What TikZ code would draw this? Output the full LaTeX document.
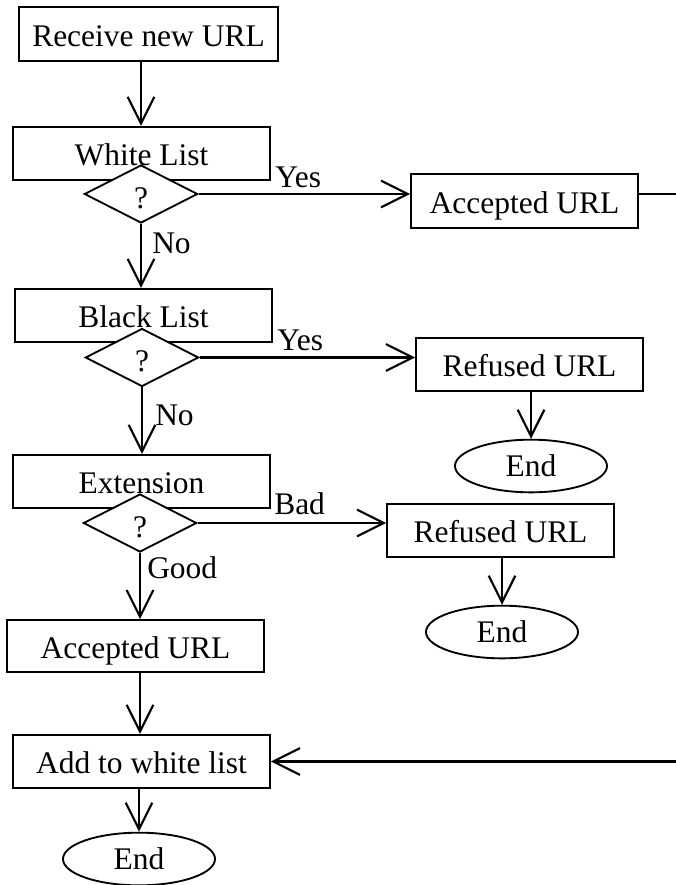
\documentclass[tikz,border=0pt]{standalone}
\usepackage{fontspec}
\setmainfont{Liberation Serif}
\usetikzlibrary{shapes.geometric,arrows.meta}
\begin{document}
\begin{tikzpicture}[x=0.75pt,y=-0.75pt,
  every node/.style={font=\fontsize{23.6}{28}\selectfont, inner sep=0pt},
  box/.style={draw, line width=1.4pt, rectangle, minimum width=#1, minimum height=40pt, text height=18.4pt, text depth=0pt},
  boxtext/.style={text height=18.4pt, text depth=0pt},
  decision/.style={draw, line width=1.4pt, diamond, fill=white, minimum width=85pt, minimum height=43.5pt, text height=21pt, text depth=0pt},
  terminal/.style={draw, line width=1.4pt, ellipse, minimum width=114pt, minimum height=39.5pt, text height=15.6pt, text depth=0pt},
  lbl/.style={anchor=base west},
  flow/.style={line width=1.6pt, -{Straight Barb[length=20pt,width=20pt]}}
]
\useasboundingbox (0,0) rectangle (675,885);

% left column
\node[box=194.25pt] (recv) at (148.5,34) {Receive new URL};
\node[box=192.75pt] (white) at (141.5,153.5) {};
\node[decision] (d1) at (141,194) {?};
\node[boxtext] (whitet) at (white) {White List};
\node[box=192.75pt] (black) at (143.5,315.5) {};
\node[decision] (d2) at (142,357.5) {?};
\node[boxtext] (blackt) at (black) {Black List};
\node[box=192.75pt] (ext) at (141.5,481.5) {};
\node[decision] (d3) at (140,523) {?};
\node[boxtext] (extt) at (ext) {Extension};
\node[box=192.75pt, minimum height=39pt] (acc2) at (135.5,646) {Accepted URL};
\node[box=192.75pt] (add) at (141.5,761.5) {Add to white list};
\node[terminal] (end3) at (139,859) {End};

% right column
\node[box=170.25pt] (acc1) at (524.5,201) {Accepted URL};
\node[box=170.25pt] (ref1) at (529.5,364.5) {Refused URL};
\node[terminal] (end1) at (531,466) {End};
\node[box=170.25pt] (ref2) at (500.5,530.5) {Refused URL};
\node[terminal] (end2) at (502,632) {End};

\coordinate (rt) at (690,0);

% connectors
\draw[flow] (recv.south -| d1) -- (white.north -| d1);
\draw[flow] (d1.south) -- (d1.south |- black.north);
\draw[flow] (d2.south) -- (d2.south |- ext.north);
\draw[flow] (d3.south) -- (d3.south |- acc2.north);
\draw[flow] (acc2.south -| d3) -- (add.north -| d3);
\draw[flow] (add.south -| end3) -- (end3.north);

\draw[flow] (d1.east) -- (d1.east -| acc1.west);
\draw[flow] (d2.east) -- (d2.east -| ref1.west);
\draw[flow] (d3.east) -- (d3.east -| ref2.west);

\draw[flow] (ref1.south -| end1) -- (end1.north);
\draw[flow] (ref2.south -| end2) -- (end2.north);

\draw[flow] (acc1.east |- d1.east) -- (rt |- d1.east) -- (rt |- add.east) -- (add.east);

% labels
\node[lbl] (yes1) at (275,187) {Yes};
\node[lbl] (no1) at (152,253) {No};
\node[lbl] (yes2) at (277,350) {Yes};
\node[lbl] (no2) at (155,425) {No};
\node[lbl] (bad) at (274,514) {Bad};
\node[lbl] (good) at (147,578) {Good};
\end{tikzpicture}
\end{document}
